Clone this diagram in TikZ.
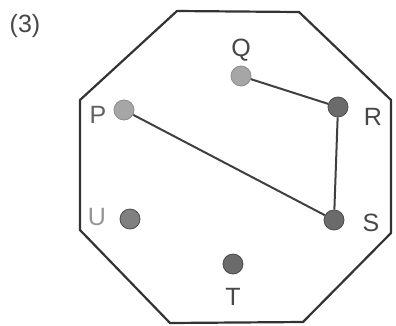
\documentclass[tikz,border=0pt]{standalone}
\usepackage{fontspec}
\setmainfont{Liberation Sans}
\begin{document}
\begin{tikzpicture}[x=1pt,y=-1pt,
  dotlight/.style={circle,inner sep=0pt,minimum size=20pt,fill=black!35,draw=black!45,line width=0.8pt},
  dotdark/.style={circle,inner sep=0pt,minimum size=20pt,fill=black!58,draw=black!70,line width=0.8pt},
  lbl/.style={font=\fontsize{25}{25}\selectfont,text=black!72,inner sep=0pt},
  edge/.style={draw=black!80,line width=2.2pt},
  seg/.style={draw=black!75,line width=2pt}]
\useasboundingbox (0,0) rectangle (396,325);
% octagon
\coordinate (o1) at (177,11);
\coordinate (o2) at (299,12);
\coordinate (o3) at (391,100);
\coordinate (o4) at (391,233);
\coordinate (o5) at (303,322);
\coordinate (o6) at (170,323);
\coordinate (o7) at (80,230);
\coordinate (o8) at (80,100);
\draw[edge,line join=round] (o1) -- (o2) -- (o3) -- (o4) -- (o5) -- (o6) -- (o7) -- (o8) -- cycle;
% dots
\node[dotlight] (P) at (124,110) {};
\node[dotlight] (Q) at (241,76) {};
\node[dotdark] (R) at (338,107) {};
\node[dotdark] (S) at (334,220) {};
\node[dotdark] (T) at (233,264) {};
\node[dotdark,fill=black!50] (U) at (130,219) {};
% connectors
\draw[seg] (Q) -- (R);
\draw[seg] (R) -- (S);
\draw[seg] (S) -- (P);
% labels
\node[lbl] (tn) at (25,26) {(3)};
\node[lbl,text=black!62] (Pl) at (98,115) {P};
\node[lbl] (Ql) at (241,50) {Q};
\node[lbl] (Rl) at (373,117) {R};
\node[lbl] (Sl) at (371,223) {S};
\node[lbl] (Tl) at (233,297) {T};
\node[lbl,text=black!42] (Ul) at (97,217) {U};
\end{tikzpicture}
\end{document}
